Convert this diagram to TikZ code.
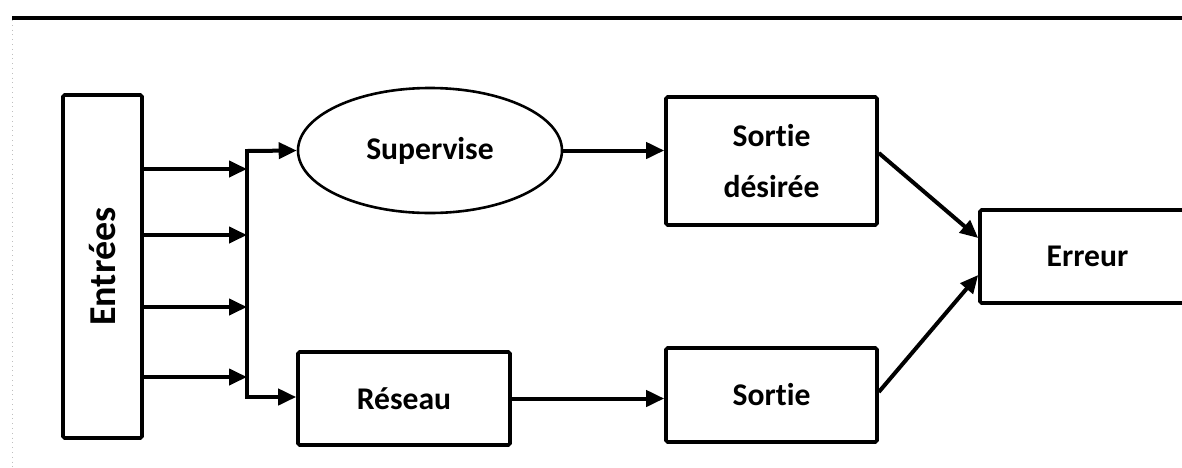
\documentclass[tikz,border=0pt]{standalone}
\usepackage{fontspec}
\setmainfont{Carlito}[Ligatures=CommonOff]
\usepackage{tikz}
\usetikzlibrary{shapes,arrows.meta}
\tikzstyle{tsLabel} = [ 
    text=black, 
    font=\bfseries\fontsize{15.8}{25.5}\selectfont
]
\tikzstyle{tsBox} = [ 
    rectangle,
    tsLabel,
    align=center,
    inner sep=0pt,
    rounded corners=0.8pt,
    draw=black,
    line width=1.8pt]
\tikzstyle{tsOval} = [ 
    ellipse,
    tsLabel,
    inner sep=0pt,
    draw=black,
    line width=1.3pt]
\tikzstyle{tsArrow} = [ 
    -{Triangle[length=9pt,width=8pt]},
    line width=2pt]

\begin{document}
\begin{tikzpicture}[x=0.5pt, y=-0.5pt]
        \useasboundingbox (0,0) rectangle (1182,467);
        
        % page rule and faint margin
        \draw[line width=2pt] (12,18) -- (1182,18);
        \draw[gray!50, dotted, line width=0.4pt] (12,20) -- (12,467);
        
        \node[tsBox, minimum width=39.5pt, minimum height=171.5pt] (entrees) at (102.5,266.5) {\rotatebox{90}{\fontsize{19}{22}\selectfont Entrées}};
        \node[tsOval, minimum width=132pt, minimum height=62.5pt] (supervise) at (430,150.5) {Supervise};
        \node[tsBox, minimum width=105.5pt, minimum height=64pt] (desiree) at (771.5,161) {Sortie\\désirée};
        \node[tsBox, minimum width=106pt, minimum height=46.5pt] (reseau) at (404,398.5) {Réseau};
        \node[tsBox, minimum width=105.5pt, minimum height=47pt] (sortie) at (771.5,395) {Sortie};
        \node[tsBox, minimum width=107.5pt, minimum height=46.5pt] (erreur) at (1087.5,256.5) {Erreur};
        
        % bus collecting the inputs
        \coordinate (busTop) at (247,151);
        \coordinate (busBot) at (247,397);
        \draw[line width=2pt, line cap=rect] (busTop) -- (busBot);
        
        \foreach \y in {169,235,307,377}
            \draw[tsArrow] (entrees.east |- 0,\y) -- (busTop |- 0,\y);
        
        \draw[tsArrow] (busTop) -- (supervise.west);
        \draw[tsArrow] (busBot) -- (busBot -| reseau.west);
        \draw[tsArrow] (supervise.east) -- (supervise.east -| desiree.west);
        \draw[tsArrow] (reseau.east) -- (reseau.east -| sortie.west);
        
        \draw[tsArrow] ([yshift=4pt]desiree.east) -- ([yshift=9.25pt]erreur.west);
        \draw[tsArrow] ([yshift=1.5pt]sortie.east) -- ([yshift=-9.25pt]erreur.west);
        
\end{tikzpicture}
\end{document}
